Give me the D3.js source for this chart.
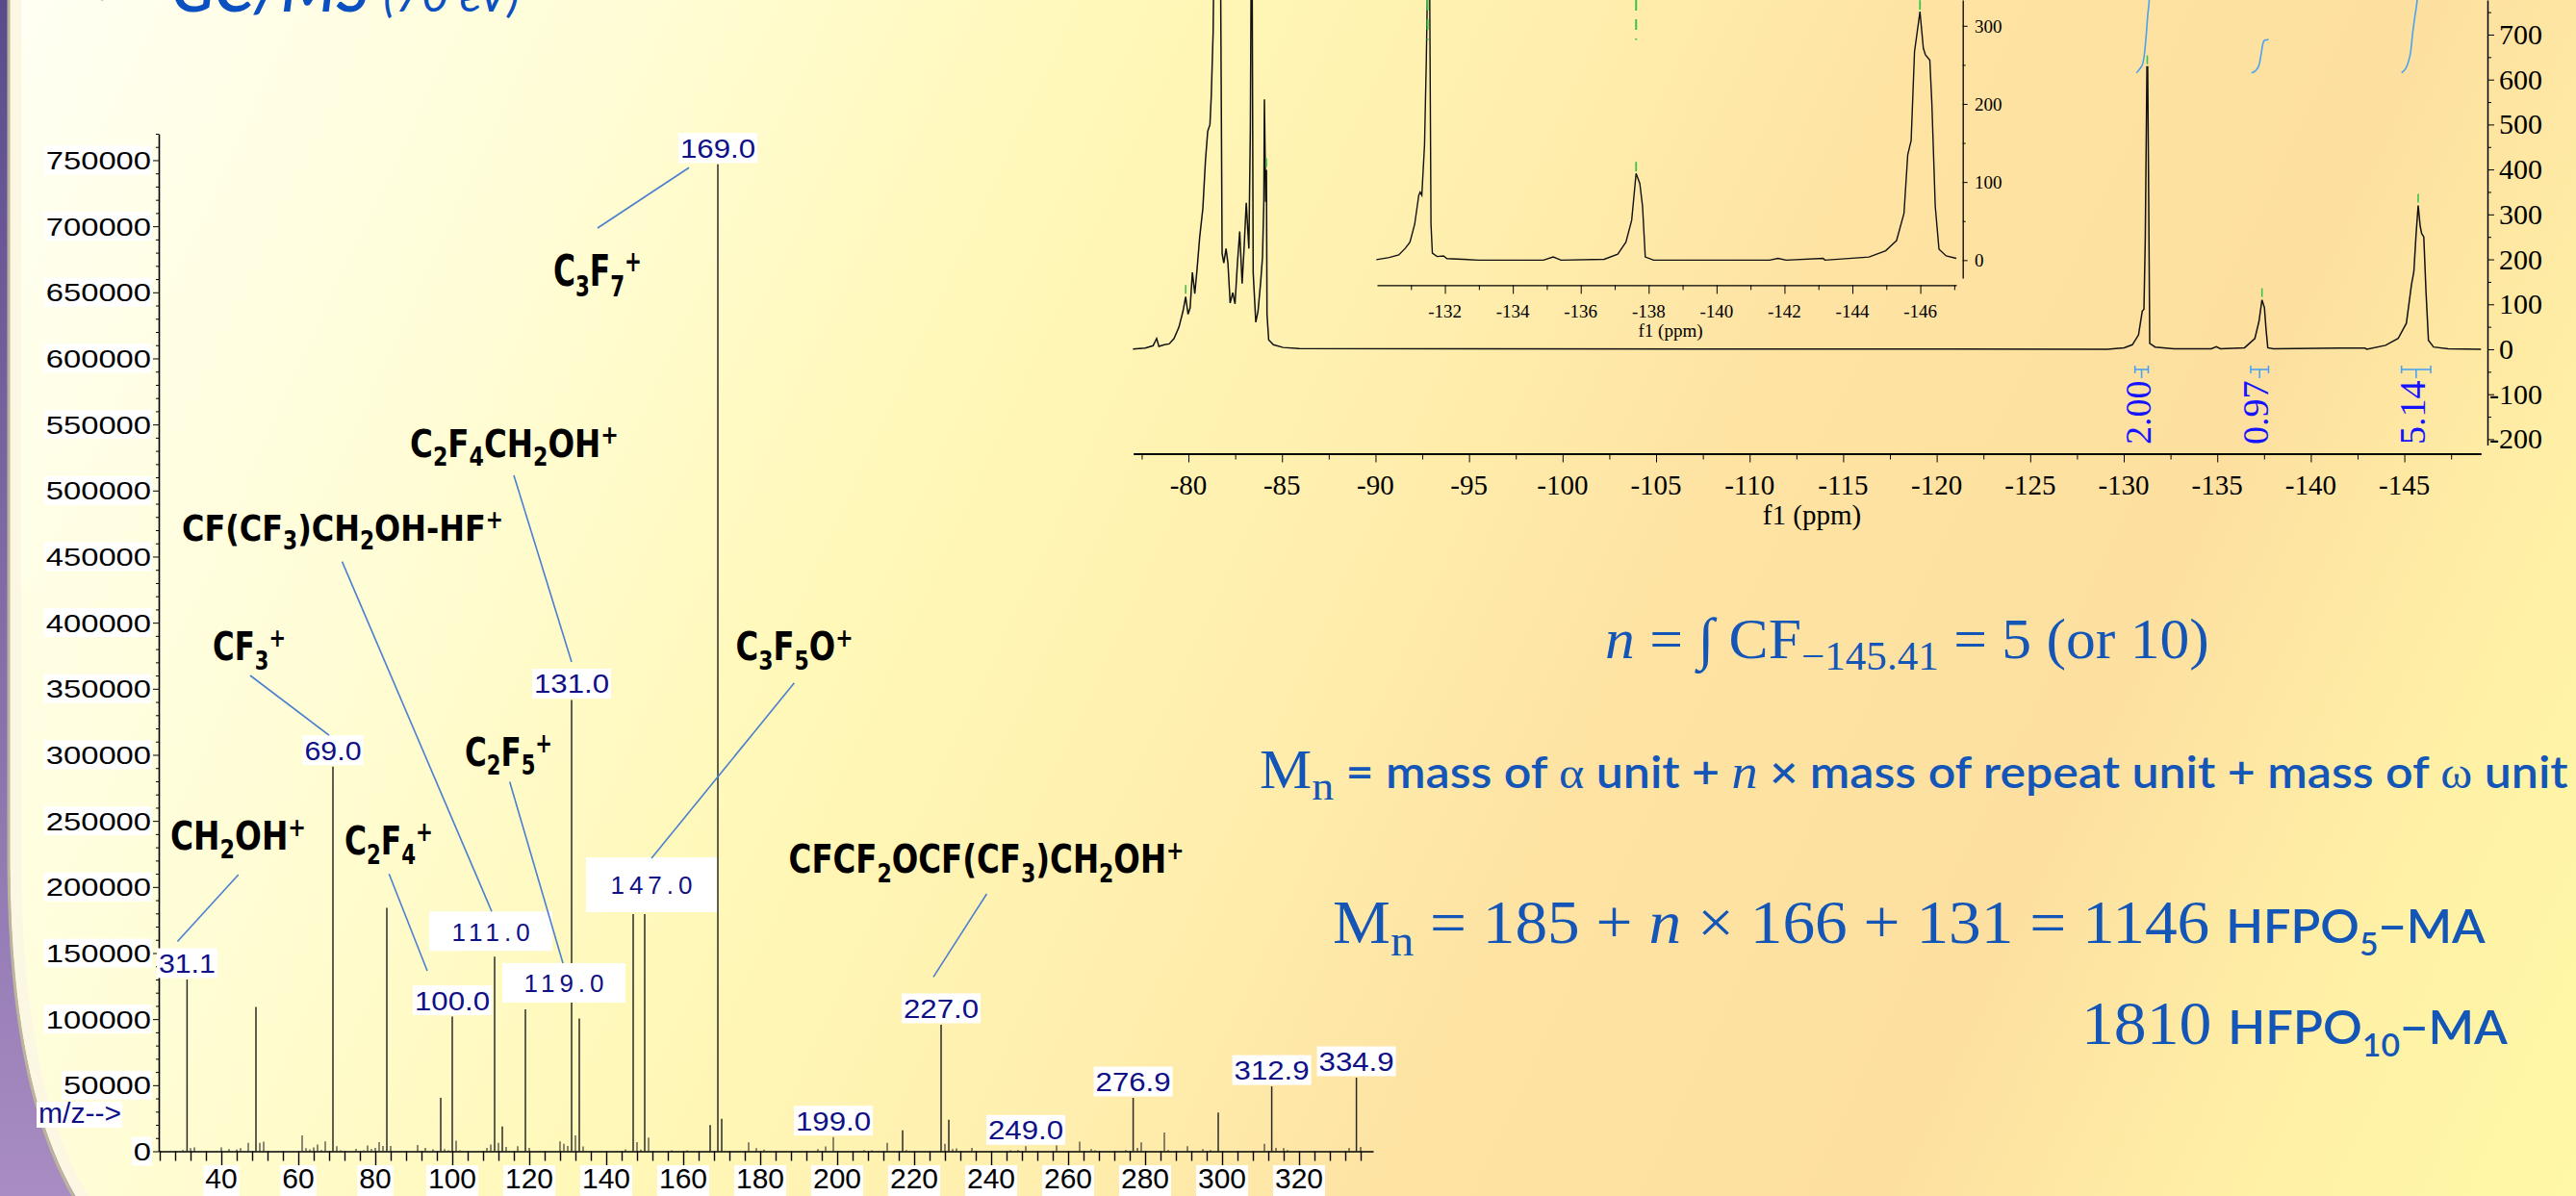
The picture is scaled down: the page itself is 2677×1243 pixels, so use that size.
<!DOCTYPE html>
<html>
<head>
<meta charset="utf-8">
<script src="https://cdn.jsdelivr.net/npm/d3@7"></script>
<style>
  body { margin: 0; overflow: hidden; background: #fffbe0; }
  svg { display: block; }
</style>
</head>
<body>
<svg id="slide" width="2677" height="1243"></svg>
<script>
// GC/MS spectrum: [m/z, abundance]
const msPeaks = [
  [30, 1000], [31.1, 130000], [32, 2300], [33, 2900], [40, 2900], [42, 1700], [44, 1200], [45, 2300],
  [47, 6400], [49, 109300], [50, 6400], [51, 7300], [61, 12000], [62, 2300], [63, 1500], [64, 2900],
  [65, 5100], [66, 1000], [67, 7500], [69, 291100], [70, 3800], [71, 800], [75, 1900], [77, 800],
  [78, 4300], [79, 1700], [80, 2500], [81, 6900], [82, 4000], [83, 184200], [84, 4000], [91, 4800],
  [93, 2500], [95, 1500], [97, 40400], [98, 1700], [99, 800], [100, 101900], [101, 8100], [102, 800],
  [109, 2500], [110, 5100], [111, 147300], [112, 6400], [113, 18800], [114, 3300], [117, 3800],
  [119, 107400], [120, 2500], [128, 7500], [129, 5600], [130, 4000], [131, 341500], [132, 12000],
  [133, 100500], [134, 3600], [145, 1500], [147, 179500], [148, 6900], [149, 1200], [150, 179500],
  [151, 10300], [157, 800], [161, 800], [167, 19800], [169, 746900], [170, 24600], [177, 6700],
  [179, 2300], [181, 1200], [195, 1700], [197, 3600], [199, 10800], [207, 1000], [209, 700],
  [213, 6400], [217, 15900], [218, 1000], [227, 95800], [228, 5600], [229, 23900], [230, 1700],
  [231, 2200], [235, 2500], [245, 800], [247, 1000], [249, 3800], [257, 4300], [263, 7300],
  [266, 1700], [267, 800], [275, 1000], [276.9, 40400], [278, 2500], [279, 6700], [285, 14200],
  [286, 1000], [291, 3800], [295, 1700], [297, 1000], [299, 29300], [311, 5600], [312.9, 49100],
  [314, 2500], [316, 2300], [317, 1000], [333, 2500], [334.9, 55700], [336, 3300]
];
const msLabelMz = [31.1, 69, 100, 111, 119, 131, 147, 169, 199, 227, 249, 276.9, 312.9, 334.9];
const msLabelText = ['31.1', '69.0', '100.0', '111.0', '119.0', '131.0', '147.0', '169.0', '199.0', '227.0', '249.0', '276.9', '312.9', '334.9'];
const msXTicks = [40, 60, 80, 100, 120, 140, 160, 180, 200, 220, 240, 260, 280, 300, 320];
const msYTicks = [0, 50000, 100000, 150000, 200000, 250000, 300000, 350000, 400000, 450000, 500000, 550000, 600000, 650000, 700000, 750000];

// fragment ions and the labelled peak each one points at
const ionFormulas = ['C_3F_7^+', 'C_2F_4CH_2OH^+', 'CF(CF_3)CH_2OH-HF^+', 'CF_3^+', 'C_2F_5^+', 'CH_2OH^+', 'C_2F_4^+', 'C_3F_5O^+', 'CFCF_2OCF(CF_3)CH_2OH^+'];
const ionPeaks = [169, 131, 111, 69, 119, 31.1, 100, 147, 227];

// 19F NMR trace: [ppm, intensity]
const nmrTrace = [
  [-77.03, 0.6], [-77.69, 2.8], [-78.11, 7.9], [-78.30, 24], [-78.42, 6.4], [-78.71, 10], [-78.97, 12],
  [-79.23, 24], [-79.49, 49], [-79.71, 85], [-79.85, 117], [-79.98, 78], [-80.09, 92], [-80.21, 171],
  [-80.34, 124], [-80.46, 178], [-80.60, 249], [-80.77, 313], [-80.91, 420], [-81.03, 485], [-81.15, 500],
  [-81.22, 563], [-81.32, 706], [-81.37, 900], [-81.71, 900], [-81.80, 213], [-81.89, 192], [-82.01, 224],
  [-82.11, 192], [-82.23, 103], [-82.37, 126], [-82.49, 101], [-82.62, 192], [-82.74, 262], [-82.87, 146],
  [-82.97, 221], [-83.09, 326], [-83.23, 224], [-83.31, 492], [-83.36, 900], [-83.40, 900], [-83.46, 171],
  [-83.60, 60], [-83.72, 85], [-83.86, 149], [-83.96, 206], [-84.03, 328], [-84.06, 556], [-84.13, 328],
  [-84.17, 399], [-84.20, 78], [-84.29, 21], [-84.54, 10], [-85.06, 4], [-85.92, 1.5], [-129.12, 0],
  [-130.02, 3.4], [-130.46, 10], [-130.79, 32], [-130.99, 85], [-131.08, 89], [-131.15, 242], [-131.24, 628],
  [-131.28, 628], [-131.35, 242], [-131.39, 13], [-131.68, 5], [-132.68, 1], [-134.68, 1], [-134.95, 5.6],
  [-135.17, 1], [-136.46, 3.4], [-137.01, 24], [-137.23, 62], [-137.39, 110], [-137.52, 93], [-137.61, 43],
  [-137.70, 3.4], [-138.01, 1], [-141.56, 2.6], [-142.89, 2.6], [-143.0, 0], [-144.0, 8.8], [-144.67, 24],
  [-145.11, 58], [-145.38, 143], [-145.51, 173], [-145.63, 257], [-145.74, 320], [-145.85, 273],
  [-145.93, 257], [-146.04, 250], [-146.16, 127], [-146.29, 20], [-146.56, 5], [-147.34, 1], [-149.1, 0]
];
const nmrPeakMarks = [[-79.85, 117], [-84.17, 399], [-131.26, 628], [-137.39, 110], [-145.74, 320]];
const integralCurves = [
  [[-130.68, 615], [-130.86, 624], [-131.02, 636], [-131.12, 662], [-131.22, 708], [-131.29, 747], [-131.35, 770], [-131.38, 790]],
  [[-136.83, 615], [-137.05, 620], [-137.23, 632], [-137.34, 655], [-137.43, 678], [-137.52, 687], [-137.74, 689]],
  [[-144.85, 615], [-145.07, 624], [-145.22, 640], [-145.34, 662], [-145.44, 701], [-145.56, 739], [-145.67, 770], [-145.72, 790]]
];
const integralRanges = [[-130.60, -131.31], [-136.79, -137.74], [-144.85, -146.41]];
const integralValues = ['2.00', '0.97', '5.14'];
const nmrXTicks = [-80, -85, -90, -95, -100, -105, -110, -115, -120, -125, -130, -135, -140, -145];
const nmrYTicks = [-200, -100, 0, 100, 200, 300, 400, 500, 600, 700];

// inset (expanded -130 to -147 ppm)
const insetTrace = [
  [-129.98, 0.5], [-130.36, 3.3], [-130.64, 6.7], [-130.83, 15], [-130.97, 23], [-131.11, 46], [-131.23, 83],
  [-131.27, 87], [-131.32, 83], [-131.40, 148], [-131.45, 251], [-131.49, 360], [-131.55, 360], [-131.59, 46],
  [-131.63, 9], [-131.77, 4.6], [-131.96, 5.4], [-132.06, 2], [-133.0, 0], [-134.9, 0], [-135.19, 4],
  [-135.42, 0], [-136.69, 1], [-137.09, 7.5], [-137.33, 23], [-137.50, 51], [-137.63, 111], [-137.74, 98],
  [-137.82, 69], [-137.90, 4], [-138.15, 0], [-141.56, 0], [-141.81, 2.2], [-142.05, 0], [-143.14, 2.2],
  [-143.19, 0], [-144.49, 4], [-144.98, 12], [-145.30, 25], [-145.52, 60], [-145.63, 135], [-145.73, 153],
  [-145.83, 267], [-145.99, 318], [-146.09, 271], [-146.15, 263], [-146.28, 256], [-146.34, 201],
  [-146.44, 69], [-146.55, 14], [-146.76, 5.4], [-147.06, 2.2]
];
const insetPeakMarks = [[-137.63, 111], [-145.99, 318]];
const insetTopMarks = [-131.49, -137.63];
const insetXTicks = [-132, -134, -136, -138, -140, -142, -144, -146];
const insetYTicks = [0, 100, 200, 300];

// ---------------------------------------------------------------
const svg = d3.select('#slide');
const defs = svg.append('defs');
const navy = '#0f0f86', formulaBlue = '#1456b8';
const sans = '"Liberation Sans", Arial, sans-serif';
const serif = '"Liberation Serif", "Times New Roman", serif';

// squeeze/stretch a text (with its tspans) horizontally to a given width
function fitWidth(t, x, y, w) {
  const natural = t.node().getComputedTextLength();
  t.attr('transform', `translate(${x},${y}) scale(${w / natural},1)`);
}

// background
const bg = defs.append('linearGradient').attr('id', 'bg')
  .attr('gradientUnits', 'userSpaceOnUse').attr('x1', 0).attr('y1', 0).attr('x2', 2677).attr('y2', 1243);
[[0, '#fffff4'], [0.2, '#fffdd6'], [0.36, '#fff8b8'], [0.5, '#ffefae'], [0.62, '#fee3a3'],
 [0.78, '#fde0a0'], [0.9, '#fff1a6'], [1, '#fff8a6']].forEach(s =>
  bg.append('stop').attr('offset', s[0]).attr('stop-color', s[1]));
const purple = defs.append('linearGradient').attr('id', 'purple').attr('x1', 0).attr('y1', 0).attr('x2', 0).attr('y2', 1);
purple.append('stop').attr('offset', 0).attr('stop-color', '#594b8a');
purple.append('stop').attr('offset', 1).attr('stop-color', '#a88cc2');

svg.append('rect').attr('width', 2677).attr('height', 1243).attr('fill', 'url(#purple)');
const edge = 'M16,-10 L16,900 Q18,1250 175,1330 L2700,1330 L2700,-10 Z';
svg.append('path').attr('d', edge).attr('fill', 'url(#bg)')
  .attr('stroke', '#fbf7e2').attr('stroke-width', 12);
svg.append('path').attr('d', 'M9,-10 L9,900 Q11,1256 171,1338').attr('fill', 'none')
  .attr('stroke', '#bdb59b').attr('stroke-width', 3);

// title (mostly off the top of the frame, as in the slide)
svg.append('text').attr('x', 100).attr('y', 5).attr('font-family', '"DejaVu Sans"').attr('font-size', 46)
  .attr('fill', '#0a50c0').text('➢');
const title = svg.append('text').attr('x', 178).attr('y', 12).attr('font-family', 'Lato, sans-serif')
  .attr('font-style', 'italic').attr('font-weight', 600).attr('font-size', 66).attr('fill', '#0a50c0');
title.append('tspan').text('GC/MS ');
title.append('tspan').attr('font-size', 48).attr('font-weight', 400).text('(70 eV)');

// ---------------- GC/MS ----------------
const xMS = d3.scaleLinear().domain([23.75, 339.25]).range([165, 1427]);
const yMS = d3.scaleLinear().domain([0, 770000]).range([1196.5, 139]);
const ms = svg.append('g');

ms.append('g').selectAll('line').data(msPeaks).join('line')
  .attr('x1', d => xMS(d[0])).attr('x2', d => xMS(d[0]))
  .attr('y1', yMS(0)).attr('y2', d => yMS(d[1]))
  .attr('stroke', '#2a2a2a').attr('stroke-width', d => d[1] > 15000 ? 1.5 : 1.1);

const gx = ms.append('g').attr('transform', `translate(0,${yMS(0)})`)
  .call(d3.axisBottom(xMS).tickValues(d3.range(24, 340, 4)).tickSize(10).tickSizeOuter(0).tickFormat(''));
gx.selectAll('.tick line').attr('y2', d => d % 20 === 0 ? 17 : 10).attr('stroke-width', 1.4);
gx.select('.domain').attr('stroke-width', 1.6);
const xLab = ms.append('g');
msXTicks.forEach(v => {
  const t = xLab.append('text').attr('x', xMS(v)).attr('y', 1235).attr('text-anchor', 'middle')
    .attr('font-family', sans).attr('font-size', 30).attr('fill', '#000').text(v);
  const w = t.node().getComputedTextLength();
  xLab.insert('rect', () => t.node()).attr('x', xMS(v) - w / 2 - 2).attr('y', 1211)
    .attr('width', w + 4).attr('height', 40).attr('fill', '#fff');
});

const gy = ms.append('g').attr('transform', `translate(${xMS.range()[0]},0)`)
  .call(d3.axisLeft(yMS).tickValues(d3.range(0, 770001, 10000)).tickSize(3).tickSizeOuter(0).tickFormat(''));
gy.selectAll('.tick line').attr('x2', d => d % 50000 === 0 ? -6 : -3);
gy.select('.domain').attr('stroke-width', 1.6);
msYTicks.forEach(v => {
  const s = String(v), w = s.length * 18.2, y = yMS(v);
  ms.append('rect').attr('x', 157 - w - 2).attr('y', y - 15).attr('width', w + 3).attr('height', 30).attr('fill', '#fff');
  ms.append('text').attr('x', 157).attr('y', y + 9.5).attr('text-anchor', 'end')
    .attr('font-family', sans).attr('font-size', 26).attr('textLength', w).attr('lengthAdjust', 'spacingAndGlyphs').text(s);
});
ms.append('rect').attr('x', 38).attr('y', 1145).attr('width', 89).attr('height', 27).attr('fill', '#fff');
ms.append('text').attr('x', 40).attr('y', 1167).attr('font-family', sans).attr('font-size', 29)
  .attr('fill', navy).attr('textLength', 86).attr('lengthAdjust', 'spacingAndGlyphs').text('m/z-->');

// peak labels: boxes sit on top of each labelled peak
const boxLayout = { '111.0': { w: 128, h: 41, dx: -4, gap: 6 }, '119.0': { w: 128, h: 41, dx: 40, gap: 7 }, '147.0': { w: 136, h: 57, dx: 19, gap: 2 } };
const boxes = {};
msLabelMz.forEach((mz, i) => {
  const label = msLabelText[i];
  const ab = msPeaks.find(p => p[0] === mz)[1];
  const special = boxLayout[label];
  const w = special ? special.w : (label.length === 4 ? 63 : 82);
  const h = special ? special.h : 31;
  const cx = xMS(mz) + (special ? special.dx : 0);
  const bottom = yMS(ab) - (special ? special.gap : 1.5);
  boxes[mz] = { cx, top: bottom - h, bottom };
  ms.append('rect').attr('x', cx - w / 2).attr('y', bottom - h).attr('width', w).attr('height', h).attr('fill', '#fff');
  const t = ms.append('text').attr('x', cx).attr('y', bottom - h / 2 + 10).attr('text-anchor', 'middle')
    .attr('font-family', sans).attr('fill', navy).text(label);
  if (special) t.attr('font-size', 26).attr('letter-spacing', 5).attr('dx', 2.5);
  else t.attr('font-size', 28).attr('textLength', w - 4).attr('lengthAdjust', 'spacingAndGlyphs');
});

// ion annotations with leader lines
const ionLayout = [
  { x: 575, y: 297, w: 92, size: 45, from: [621, 237], to: [-30, 36] },
  { x: 426, y: 474.6, w: 217, size: 39, from: [534, 494], to: [0, -7] },
  { x: 189, y: 562, w: 334, size: 38, from: [355.5, 583.6], to: [1, 0] },
  { x: 221, y: 686, w: 76, size: 40, from: [260, 702], to: [-4, 0] },
  { x: 483, y: 795.6, w: 91, size: 41, from: [529.7, 812.6], to: [-1, 0] },
  { x: 177, y: 882.6, w: 141, size: 40, from: [247.8, 909], to: [-10, -7] },
  { x: 358, y: 888, w: 92, size: 41, from: [404.3, 908.3], to: [-26, -15] },
  { x: 764.6, y: 686, w: 122, size: 40, from: [825.4, 709.8], to: [0, 1] },
  { x: 819.6, y: 907, w: 411, size: 40, from: [1025.4, 929], to: [-8, -17] }
];
function chemText(sel, str, size) {
  const re = /_([0-9]+)|\^(\+)|([^_^]+)/g;
  let m, shift = 0;
  while ((m = re.exec(str))) {
    const kind = m[1] ? 'sub' : m[2] ? 'sup' : 'n';
    const target = kind === 'sub' ? size * 0.24 : kind === 'sup' ? -size * 0.34 : 0;
    sel.append('tspan').attr('dy', target - shift).attr('font-size', kind === 'n' ? size : size * 0.68)
      .text(m[1] || m[2] || m[3]);
    shift = target;
  }
}
ionFormulas.forEach((f, i) => {
  const L = ionLayout[i], b = boxes[ionPeaks[i]];
  ms.append('line').attr('x1', L.from[0]).attr('y1', L.from[1])
    .attr('x2', b.cx + L.to[0]).attr('y2', b.top + L.to[1])
    .attr('stroke', '#4a7fd2').attr('stroke-width', 1.6);
  const t = ms.append('text').attr('font-family', '"DejaVu Sans", sans-serif')
    .attr('font-weight', 'bold').attr('fill', '#000');
  chemText(t, f, L.size);
  fitWidth(t, L.x, L.y, L.w);
});

// ---------------- 19F NMR ----------------
const xN = d3.scaleLinear().domain([-77.05, -149.1]).range([1177.7, 2578.3]);
const yN = d3.scaleLinear().domain([-213, 777]).range([462.5, 0]);
const nmr = svg.append('g');
const lineN = d3.line().x(d => xN(d[0])).y(d => yN(d[1]));
nmr.append('path').attr('d', lineN(nmrTrace)).attr('fill', 'none').attr('stroke', '#111').attr('stroke-width', 1.5);

nmr.selectAll('.mark').data(nmrPeakMarks).join('line')
  .attr('x1', d => xN(d[0])).attr('x2', d => xN(d[0]))
  .attr('y1', d => yN(d[1]) - 12).attr('y2', d => yN(d[1]) - 3)
  .attr('stroke', '#3cc24b').attr('stroke-width', 1.6);

const smoothN = d3.line().x(d => xN(d[0])).y(d => yN(d[1])).curve(d3.curveMonotoneX);
integralCurves.forEach(c => nmr.append('path').attr('d', smoothN(c))
  .attr('fill', 'none').attr('stroke', '#4aa3ef').attr('stroke-width', 1.6));
integralRanges.forEach((r, i) => {
  const x1 = xN(r[0]), x2 = xN(r[1]), yb = yN(-45), cx = (x1 + x2) / 2;
  const g = nmr.append('g').attr('stroke', '#4aa3ef').attr('stroke-width', 1.6);
  g.append('line').attr('x1', x1).attr('x2', x2).attr('y1', yb).attr('y2', yb);
  [x1, x2].forEach(x => g.append('line').attr('x1', x).attr('x2', x).attr('y1', yb - 4).attr('y2', yb + 4));
  g.append('line').attr('x1', cx).attr('x2', cx).attr('y1', yb).attr('y2', yb + 9);
  nmr.append('text').attr('transform', `translate(${cx + 9},462) rotate(-90)`)
    .attr('font-family', serif).attr('font-size', 38).attr('fill', '#1414ff').text(integralValues[i]);
});

const gxN = nmr.append('g').attr('transform', `translate(0,${yN(-213) + 9})`)
  .call(d3.axisBottom(xN).tickValues(d3.range(-77.5, -150, -2.5)).tickSize(6).tickSizeOuter(0).tickFormat(''));
gxN.selectAll('.tick line').attr('y2', d => d % 5 === 0 ? 9 : 6);
gxN.select('.domain').attr('stroke-width', 1.8);
nmrXTicks.forEach(v => nmr.append('text').attr('x', xN(v)).attr('y', 514).attr('text-anchor', 'middle')
  .attr('font-family', serif).attr('font-size', 29).text(String(v)));
nmr.append('text').attr('x', 1883).attr('y', 545).attr('text-anchor', 'middle')
  .attr('font-family', serif).attr('font-size', 29).text('f1 (ppm)');

const gyN = nmr.append('g').attr('transform', `translate(2585,0)`)
  .call(d3.axisRight(yN).tickValues(d3.range(-200, 751, 50)).tickSize(4).tickSizeOuter(0).tickFormat(''));
gyN.selectAll('.tick line').attr('x2', d => d % 100 === 0 ? 7 : 4);
gyN.select('.domain').attr('stroke-width', 1.5);
nmrYTicks.forEach(v => nmr.append('text').attr('x', v < 0 ? 2587 : 2597).attr('y', yN(v) + 10)
  .attr('font-family', serif).attr('font-size', 30).text(String(v)));

// inset
const xI = d3.scaleLinear().domain([-130.0, -147.06]).range([1431, 2033]);
const yI = d3.scaleLinear().domain([-23, 333]).range([289, 0]);
const ins = svg.append('g');
ins.append('path').attr('d', d3.line().x(d => xI(d[0])).y(d => yI(d[1]))(insetTrace))
  .attr('fill', 'none').attr('stroke', '#111').attr('stroke-width', 1.4);
ins.selectAll('.pm').data(insetPeakMarks).join('line')
  .attr('x1', d => xI(d[0])).attr('x2', d => xI(d[0]))
  .attr('y1', d => yI(d[1]) - 12).attr('y2', d => yI(d[1]) - 2)
  .attr('stroke', '#3cc24b').attr('stroke-width', 1.8);
ins.selectAll('.tm').data(insetTopMarks).join('line')
  .attr('x1', d => xI(d)).attr('x2', d => xI(d)).attr('y1', yI(333)).attr('y2', yI(282))
  .attr('stroke', '#3cc24b').attr('stroke-width', 2).attr('stroke-dasharray', '11,9');
const gxI = ins.append('g').attr('transform', 'translate(0,296.4)')
  .call(d3.axisBottom(xI).tickValues(d3.range(-131, -147.5, -1)).tickSize(5).tickSizeOuter(0).tickFormat(''));
gxI.selectAll('.tick line').attr('y2', d => d % 2 === 0 ? 9 : 5);
gxI.select('.domain').attr('stroke-width', 1.4);
insetXTicks.forEach(v => ins.append('text').attr('x', xI(v)).attr('y', 330).attr('text-anchor', 'middle')
  .attr('font-family', serif).attr('font-size', 19).text(String(v)));
ins.append('text').attr('x', 1736).attr('y', 350).attr('text-anchor', 'middle')
  .attr('font-family', serif).attr('font-size', 19).text('f1 (ppm)');
const gyI = ins.append('g').attr('transform', 'translate(2039.7,0)')
  .call(d3.axisRight(yI).tickValues(d3.range(0, 301, 50)).tickSize(3).tickSizeOuter(0).tickFormat(''));
gyI.selectAll('.tick line').attr('x2', d => d % 100 === 0 ? 5 : 3);
gyI.select('.domain').attr('stroke-width', 1.3);
insetYTicks.forEach(v => ins.append('text').attr('x', 2052).attr('y', yI(v) + 7)
  .attr('font-family', serif).attr('font-size', 19).text(String(v)));

// ---------------- formulas ----------------
const fx = svg.append('g').attr('fill', formulaBlue);
const gothic = 'Lato, "Open Sans", sans-serif';
function addLine(x, y, len, parts) {
  const t = fx.append('text');
  let shift = 0;
  parts.forEach(p => {
    const dy = p.dy || 0;
    const s = t.append('tspan').attr('dy', dy - shift).attr('font-size', p.size)
      .attr('font-family', p.sans ? gothic : serif).text(p.t);
    if (p.it) s.attr('font-style', 'italic');
    if (p.sans) s.attr('font-weight', 600);
    shift = dy;
  });
  fitWidth(t, x, y, len);
}
addLine(1668, 684, 628, [
  { t: 'n', size: 60, it: true }, { t: ' = ∫ CF', size: 60 }, { t: '−145.41', size: 42, dy: 12 },
  { t: ' = 5 (or 10)', size: 60 }
]);
addLine(1309, 819, 1360, [
  { t: 'M', size: 56 }, { t: 'n', size: 42, dy: 12 }, { t: ' = mass of ', size: 46, sans: true },
  { t: 'α', size: 46 }, { t: ' unit + ', size: 46, sans: true }, { t: 'n', size: 50, it: true },
  { t: ' × mass of repeat unit + mass of ', size: 46, sans: true }, { t: 'ω', size: 46 },
  { t: ' unit', size: 46, sans: true }
]);
addLine(1385, 980, 1198, [
  { t: 'M', size: 64 }, { t: 'n', size: 46, dy: 13 }, { t: ' = 185 +  ', size: 64 }, { t: 'n', size: 64, it: true },
  { t: ' × 166 + 131 = 1146  ', size: 64 }, { t: 'HFPO', size: 48, sans: true },
  { t: '5', size: 32, sans: true, dy: 13 }, { t: '−MA', size: 48, sans: true }
]);
addLine(2163, 1085, 443, [
  { t: '1810  ', size: 64 }, { t: 'HFPO', size: 48, sans: true },
  { t: '10', size: 32, sans: true, dy: 13 }, { t: '−MA', size: 48, sans: true }
]);
</script>
</body>
</html>
